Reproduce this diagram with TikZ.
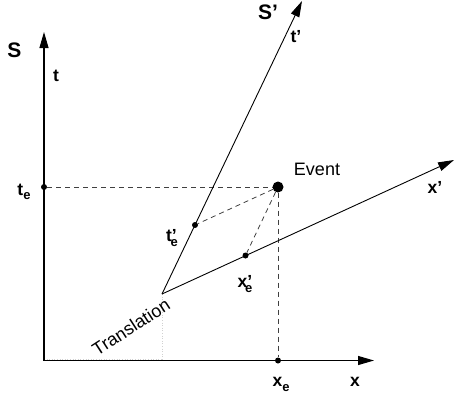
\documentclass[tikz,border=0pt]{standalone}
\usepackage{fontspec}
\setmainfont{Liberation Sans}
\usetikzlibrary{arrows.meta}
\begin{document}
\begin{tikzpicture}[x=1pt,y=-1pt,
  axis/.style={line width=1.1pt,-{Triangle[length=16pt,width=9pt]}},
  thin axis/.style={line width=0.9pt,-{Triangle[length=16pt,width=9pt]}},
  proj/.style={dashed,dash pattern=on 5pt off 4pt,line width=0.8pt,draw=black!75},
  faint/.style={dotted,line width=0.6pt,draw=black!18},
  dot/.style={circle,fill=black,inner sep=0pt,minimum size=6pt},
  bigdot/.style={circle,fill=black,inner sep=0pt,minimum size=11pt},
  lbl/.style={font=\bfseries\fontsize{17.5}{17.5}\selectfont,inner sep=0pt},
  big/.style={font=\bfseries\fontsize{21}{21}\selectfont,inner sep=0pt},
  txt/.style={font=\fontsize{18}{18}\selectfont,inner sep=0pt}]
\newcommand{\subE}{\fontsize{13}{13}\selectfont e}
\useasboundingbox (0,0) rectangle (457,402);
% coordinates
\coordinate (O) at (44,360.5);
\coordinate (ttip) at (44,32);
\coordinate (xtip) at (374,360.5);
\coordinate (Op) at (162,294);
\coordinate (tptip) at (302,1);
\coordinate (xptip) at (454,160);
% dots
\node[bigdot] (ev) at (278,187) {};
\node[dot] (te) at (44,187) {};
\node[dot] (xe) at (278,360.5) {};
\node[dot] (tpe) at (195,225) {};
\node[dot] (xpe) at (245.5,255.5) {};
% faint guides
\draw[faint] (Op) -- (162,359.5);
\draw[faint] (44,359.5) -- (162,359.5);
% projections
\draw[proj] (te) -- (ev);
\draw[proj] (ev) -- (xe);
\draw[proj] (ev) -- (tpe);
\draw[proj] (ev) -- (xpe);
% axes
\draw[axis] (O) -- (ttip);
\draw[axis] (O) -- (xtip);
\draw[thin axis] (Op) -- (tptip);
\draw[thin axis] (Op) -- (xptip);
% labels
\node[big] (lS) at (14.5,50.5) {S};
\node[lbl] (lt) at (56,76) {t};
\node[big] (lSp) at (268,12) {S'};
\node[lbl] (ltp) at (296,37) {t'};
\node[lbl] (lte) at (24,192) {t\raisebox{-0.45ex}{\subE}};
\node[txt] (lev) at (317,169) {Event};
\node[lbl] (lxp) at (435,187) {x'};
\node[lbl] (ltpe) at (172,238) {t'\kern-0.35em\raisebox{-0.55ex}{\subE}};
\node[lbl] (lxpe) at (245,284) {x'\kern-0.4em\raisebox{-0.55ex}{\subE}};
\node[lbl] (lxe) at (281,384) {x\raisebox{-0.55ex}{\subE}};
\node[lbl] (lx) at (355,382) {x};
\node[txt,rotate=33] (ltr) at (131,327) {Translation};
\end{tikzpicture}
\end{document}
